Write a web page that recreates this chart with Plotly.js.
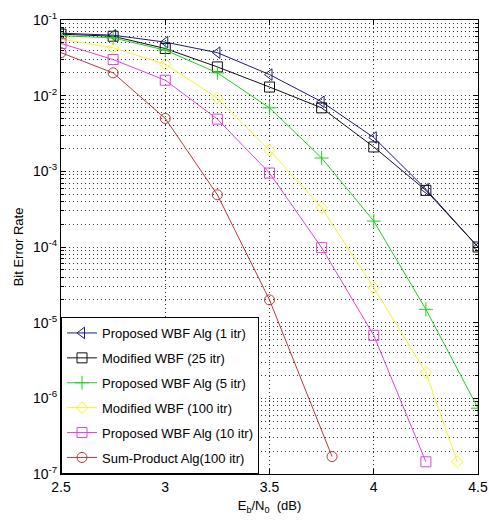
<!DOCTYPE html>
<html>
<head>
<meta charset="utf-8">
<script src="https://cdn.plot.ly/plotly-3.0.1.min.js"></script>
<style>html,body{margin:0;padding:0;background:#fff;}#chart{width:489px;height:529px;}</style>
</head>
<body>
<div id="chart"></div>
<script>
// Eb/N0 (dB) values
const xFull = [2.5, 2.75, 3, 3.25, 3.5, 3.75, 4, 4.25, 4.5];
const xYellow = [2.5, 2.75, 3, 3.25, 3.5, 3.75, 4, 4.25, 4.4];
const xMagenta = [2.5, 2.75, 3, 3.25, 3.5, 3.75, 4, 4.25];
const xRed = [2.5, 2.75, 3, 3.25, 3.5, 3.8];

// Bit error rates
const berProp1 = [0.067, 0.063, 0.051, 0.037, 0.019, 0.0083, 0.0028, 0.00058, 0.0001];
const berMod25 = [0.065, 0.061, 0.042, 0.024, 0.013, 0.0069, 0.0021, 0.00056, 0.0001];
const berProp5 = [0.062, 0.058, 0.040, 0.020, 0.0069, 0.0015, 0.00022, 0.000015, 0.00000074];
const berMod100 = [0.056, 0.043, 0.026, 0.0093, 0.0019, 0.00033, 0.000029, 0.0000022, 0.000000145];
const berProp10 = [0.049, 0.030, 0.016, 0.0049, 0.00095, 0.000098, 0.0000068, 0.000000145];
const berSumProd = [0.037, 0.020, 0.005, 0.00049, 0.00002, 0.00000017];

const seriesNames = [
  "Proposed WBF Alg (1 itr)",
  "Modified WBF (25 itr)",
  "Proposed WBF Alg (5 itr)",
  "Modified WBF (100 itr)",
  "Proposed WBF Alg (10 itr)",
  "Sum-Product Alg(100 itr)"
];
const yTickVals = [1e-7, 1e-6, 1e-5, 1e-4, 1e-3, 1e-2, 1e-1];
const yTickText = ["10<sup>-7</sup>", "10<sup>-6</sup>", "10<sup>-5</sup>", "10<sup>-4</sup>", "10<sup>-3</sup>", "10<sup>-2</sup>", "10<sup>-1</sup>"];
const xTickVals = [2.5, 3, 3.5, 4, 4.5];
const xTickText = ["2.5", "3", "3.5", "4", "4.5"];

const xs = [xFull, xFull, xFull, xYellow, xMagenta, xRed];
const ys = [berProp1, berMod25, berProp5, berMod100, berProp10, berSumProd];
const colors = ["#1a1a80", "#111111", "#22cc22", "#f2f230", "#dd44dd", "#b83a3a"];
const symbols = ["triangle-left-open", "square-open", "cross-thin-open", "diamond-open", "square-open", "circle-open"];
const sizes = [10, 10, 10, 9, 10, 10];

const traces = seriesNames.map((n, i) => ({
  x: xs[i], y: ys[i], name: n, type: "scatter", mode: "lines+markers",
  legendgroup: "g" + i,
  line: {color: colors[i], width: 1},
  marker: {symbol: symbols[i], size: sizes[i], color: colors[i], line: {color: colors[i], width: 1}}
}));

const dotDash = "1px,3px";
const layout = {
  width: 489, height: 529,
  margin: {l: 61, r: 11, t: 20, b: 55},
  paper_bgcolor: "#ffffff", plot_bgcolor: "#ffffff",
  font: {family: "Liberation Sans, Arial, sans-serif", size: 12, color: "#000"},
  showlegend: true,
  legend: {
    x: 0, y: 0, xanchor: "left", yanchor: "bottom",
    bgcolor: "#ffffff", bordercolor: "#000000", borderwidth: 1,
    font: {size: 13, color: "#000"}, tracegroupgap: 5, itemwidth: 30
  },
  xaxis: {
    range: [2.5, 4.5], tickmode: "array", tickvals: xTickVals, ticktext: xTickText,
    showgrid: true, gridcolor: "#333", griddash: dotDash, gridwidth: 1,
    ticks: "inside", ticklen: 5, tickcolor: "#000", mirror: "allticks",
    showline: true, linecolor: "#000", linewidth: 1, zeroline: false,
    title: {text: "E<sub>b</sub>/N<sub>0</sub>  (dB)", font: {size: 13}, standoff: 7},
    tickfont: {size: 14}
  },
  yaxis: {
    type: "log", range: [-7, -1], tickmode: "array", tickvals: yTickVals, ticktext: yTickText,
    showgrid: true, gridcolor: "#333", griddash: dotDash, gridwidth: 1,
    ticks: "inside", ticklen: 5, tickcolor: "#000", mirror: "allticks",
    showline: true, linecolor: "#000", linewidth: 1, zeroline: false,
    minor: {dtick: "D1", showgrid: true, gridcolor: "#333", griddash: dotDash, gridwidth: 1, ticks: "inside", ticklen: 3, tickcolor: "#000"},
    title: {text: "Bit Error Rate", font: {size: 13}, standoff: 6},
    tickfont: {size: 14}
  }
};

Plotly.newPlot("chart", traces, layout, {displayModeBar: false, staticPlot: true});
</script>
</body>
</html>
